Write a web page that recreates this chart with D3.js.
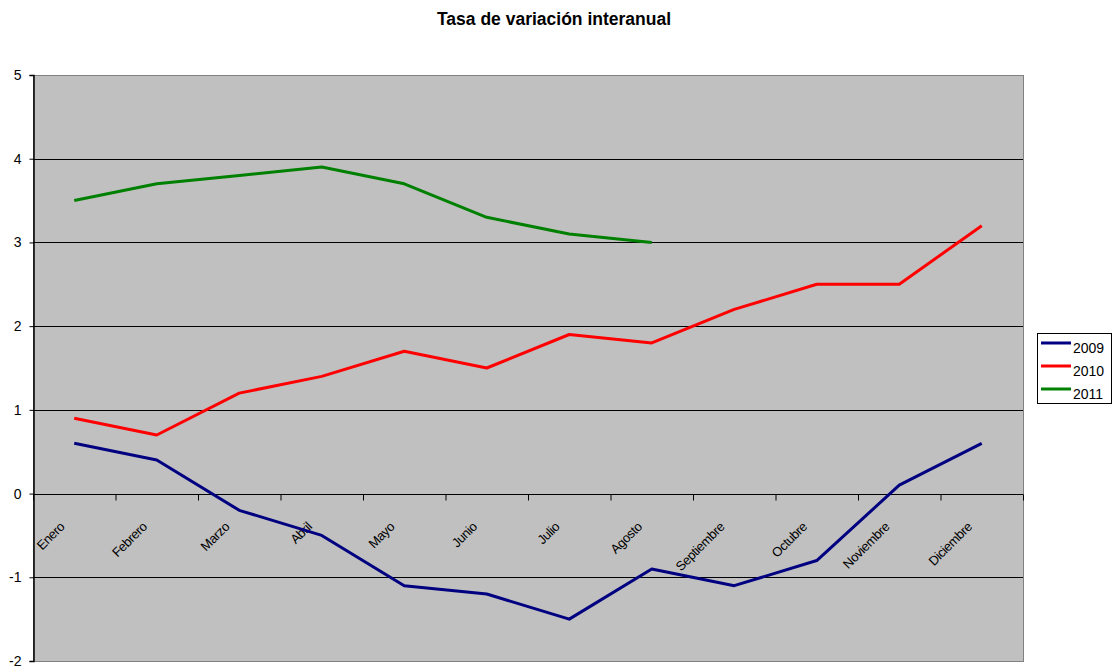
<!DOCTYPE html>
<html>
<head>
<meta charset="utf-8">
<script src="https://cdn.jsdelivr.net/npm/d3@7/dist/d3.min.js"></script>
<style>
  body { margin: 0; background: #fff; }
  text { font-family: "Liberation Sans", Arial, sans-serif; }
</style>
</head>
<body>
<svg id="chart" width="1115" height="672"></svg>
<script>
const months = ["Enero","Febrero","Marzo","Abril","Mayo","Junio","Julio","Agosto","Septiembre","Octubre","Noviembre","Diciembre"];
const s2009 = [0.6, 0.4, -0.2, -0.5, -1.1, -1.2, -1.5, -0.9, -1.1, -0.8, 0.1, 0.6];
const s2010 = [0.9, 0.7, 1.2, 1.4, 1.7, 1.5, 1.9, 1.8, 2.2, 2.5, 2.5, 3.2];
const s2011 = [3.5, 3.7, 3.8, 3.9, 3.7, 3.3, 3.1, 3.0];
const seriesNames = ["2009", "2010", "2011"];
const seriesColors = ["#000080", "#FF0000", "#008000"];
const yTicks = [-2, -1, 0, 1, 2, 3, 4, 5];
const title = "Tasa de variación interanual";

const series = [s2009, s2010, s2011];
const svg = d3.select("#chart");
const L = 33, R = 1023, T = 75, B = 661;

const x = d3.scaleBand().domain(months).range([L, R]).padding(0);
const y = d3.scaleLinear().domain([-2, 5]).range([B, T]);
const xb = d3.scaleLinear().domain([0, months.length]).range([L, R]);

// title
svg.append("text").attr("x", 554).attr("y", 25).attr("text-anchor", "middle")
  .attr("font-size", 17.5).attr("font-weight", "bold").text(title);

// plot background
svg.append("rect").attr("x", L).attr("y", T).attr("width", R - L).attr("height", B - T)
  .attr("fill", "#C0C0C0").attr("stroke", "#808080").attr("stroke-width", 1)
  .attr("shape-rendering", "crispEdges");

// gridlines
svg.append("g").selectAll("line").data(yTicks.filter(v => v > -2 && v < 5)).join("line")
  .attr("x1", L).attr("x2", R).attr("y1", d => Math.round(y(d)) + 0.5).attr("y2", d => Math.round(y(d)) + 0.5)
  .attr("stroke", "#000").attr("stroke-width", 1);

// y axis
const yAxis = svg.append("g").attr("transform", `translate(${L + 0.5},0)`)
  .call(d3.axisLeft(y).tickValues(yTicks).tickSize(4).tickPadding(8).tickFormat(d => String(d)));
yAxis.select(".domain").attr("stroke", "#000").attr("stroke-width", 1.5);
yAxis.selectAll(".tick line").attr("stroke", "#000");
yAxis.selectAll(".tick text").attr("font-size", 14).attr("font-family", "Liberation Sans, Arial, sans-serif").attr("fill", "#000");

// x axis ticks at band boundaries (at y=0)
const xTickAxis = svg.append("g").attr("transform", `translate(0,${Math.round(y(0)) + 0.5})`)
  .call(d3.axisBottom(xb).ticks(months.length).tickSize(6).tickFormat(""));
xTickAxis.select(".domain").remove();
xTickAxis.selectAll(".tick line").attr("stroke", "#000");

// x labels rotated
const xLab = svg.append("g").attr("transform", `translate(0,${y(0)})`)
  .call(d3.axisBottom(x).tickSize(0).tickPadding(0));
xLab.select(".domain").remove();
xLab.selectAll(".tick text")
  .attr("font-size", 13).attr("font-family", "Liberation Sans, Arial, sans-serif")
  .attr("letter-spacing", "-0.4px").attr("fill", "#000")
  .attr("text-anchor", "end").attr("dy", 0).attr("y", 0)
  .attr("transform", "translate(-9,34) rotate(-45)");

// lines
const line = d3.line().x((d, i) => x(months[i]) + x.bandwidth() / 2).y(d => y(d));
series.forEach((s, k) => {
  svg.append("path").datum(s).attr("d", line).attr("fill", "none")
    .attr("stroke", seriesColors[k]).attr("stroke-width", 3).attr("stroke-linejoin", "round");
});

// legend
const lg = svg.append("g");
lg.append("rect").attr("x", 1037.5).attr("y", 333.5).attr("width", 74).attr("height", 70)
  .attr("fill", "#fff").attr("stroke", "#000").attr("stroke-width", 1);
seriesNames.forEach((n, k) => {
  const yy = 343 + k * 23;
  lg.append("line").attr("x1", 1041).attr("x2", 1071).attr("y1", yy).attr("y2", yy)
    .attr("stroke", seriesColors[k]).attr("stroke-width", 3);
  lg.append("text").attr("x", 1073).attr("y", yy + 10).attr("font-size", 14).text(n);
});
</script>
</body>
</html>
